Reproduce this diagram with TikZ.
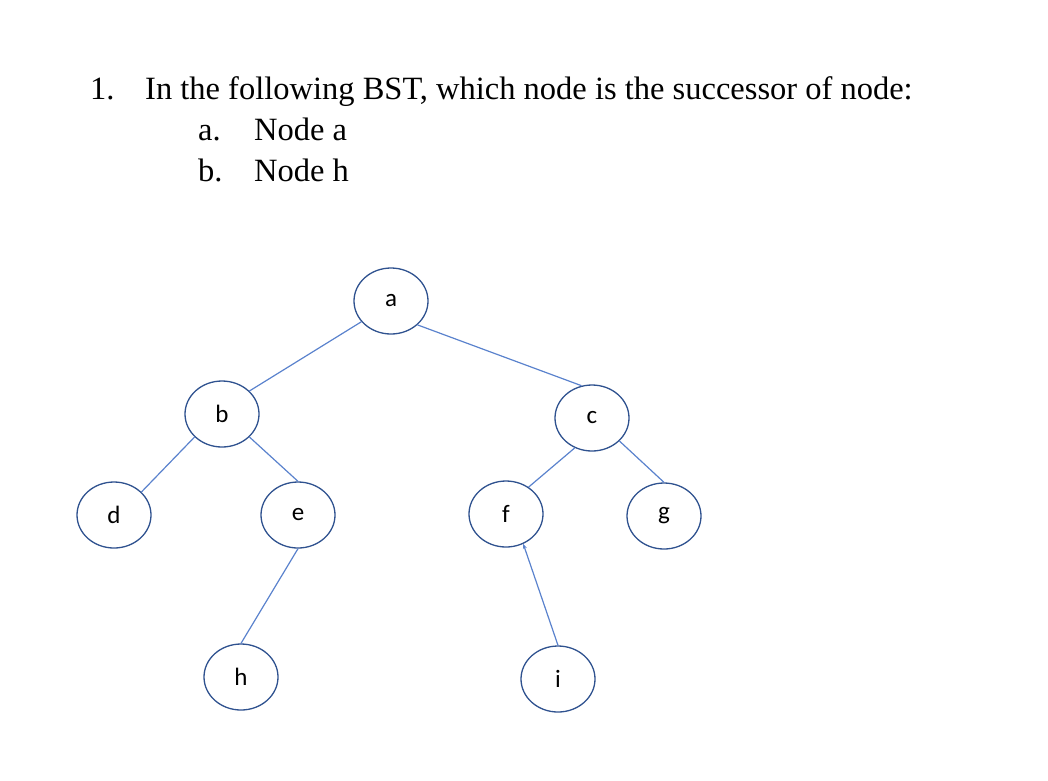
\documentclass[tikz,border=0pt]{standalone}
\usepackage{fontspec}
\setmainfont{Liberation Serif}
\newfontfamily\nodefont{Carlito}
\usetikzlibrary{shapes.geometric,arrows.meta}
\begin{document}
\begin{tikzpicture}[x=1pt,y=-1pt,
  tn/.style={ellipse,draw={rgb,255:red,47;green,82;blue,143},line width=1.3pt,minimum width=74pt,minimum height=66pt,inner sep=0pt,font=\nodefont\fontsize{25}{27}\selectfont},
  ed/.style={draw={rgb,255:red,90;green,130;blue,205},line width=1.2pt},
  tx/.style={anchor=base west,inner sep=0pt,font=\fontsize{32.5}{35}\selectfont}]
\useasboundingbox (0,0) rectangle (1048,780);
\node[tx] (t1) at (90,99) {1.};
\node[tx] (t2) at (145,99) {In the following BST, which node is the successor of node:};
\node[tx] (t3) at (198,140) {a.};
\node[tx] (t4) at (254,140) {Node a};
\node[tx] (t5) at (198,181) {b.};
\node[tx] (t6) at (254,181) {Node h};
\node[tn] (a) at (391,301) {a};
\node[tn] (b) at (222,414) {b};
\node[tn] (c) at (592,418) {c};
\node[tn] (d) at (114,515) {d};
\node[tn] (e) at (298,515) {e};
\node[tn] (f) at (506,514) {f};
\node[tn] (g) at (664,516) {g};
\node[tn] (h) at (241,677) {h};
\node[tn] (i) at (558,679) {i};
\draw[ed] (a.-145) -- (b.40);
\draw[ed] (a.-42) -- (c.108);
\draw[ed] (b.-140) -- (d.40);
\draw[ed] (b.-40) -- (e.north);
\draw[ed] (c.-120) -- (f.50);
\draw[ed] (c.-40) -- (g.north);
\draw[ed] (e.south) -- (h.north);
\draw[ed,-{Stealth[length=5pt,width=4pt]}] (i.north) -- (f.-60);
\end{tikzpicture}
\end{document}
